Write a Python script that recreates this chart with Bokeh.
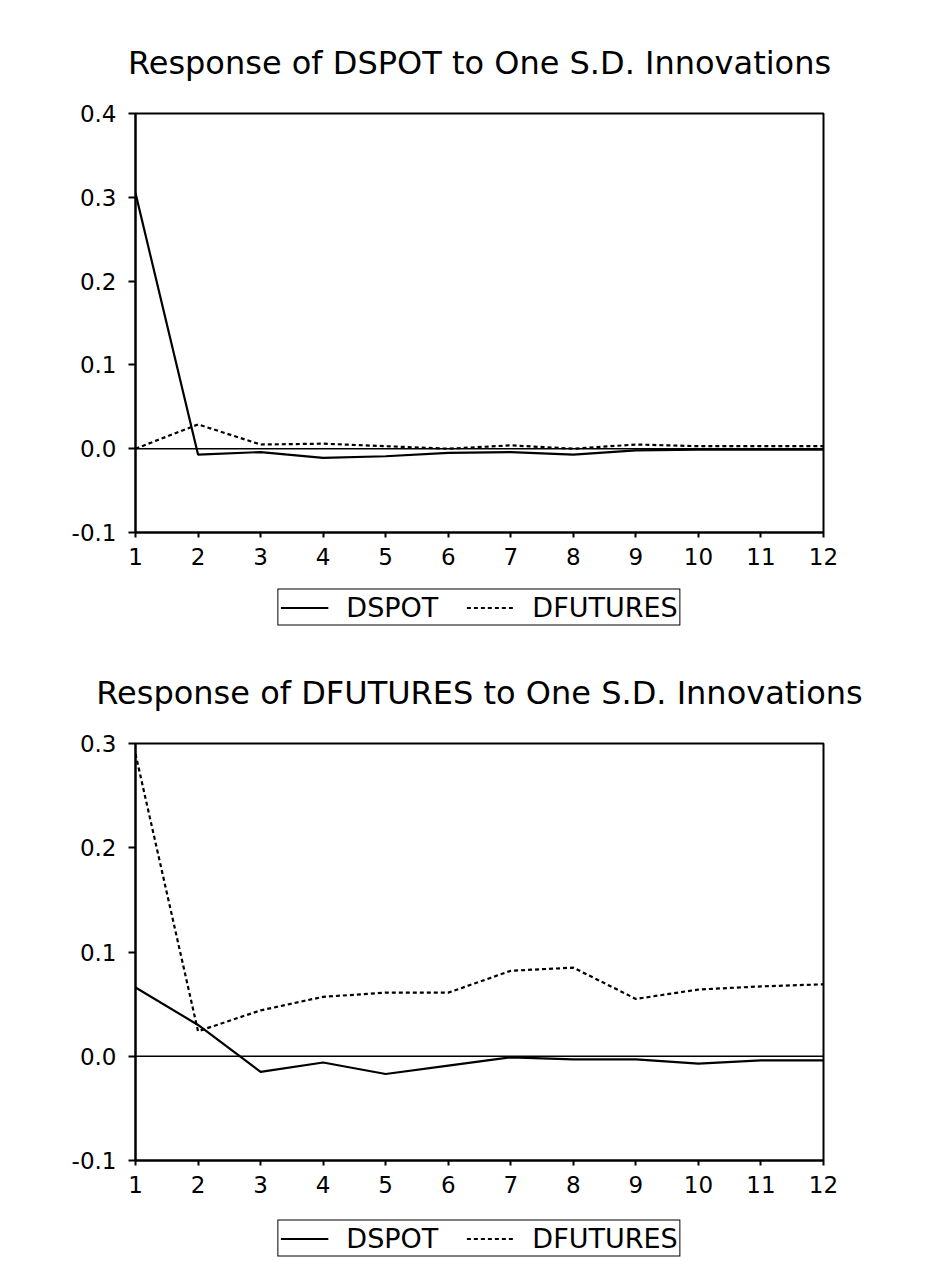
from bokeh.plotting import figure
from bokeh.models import Range1d, FixedTicker, NumeralTickFormatter, Span, Legend, LegendItem
from bokeh.layouts import column
from bokeh.embed import file_html
from bokeh.resources import INLINE

steps = list(range(1, 13))
x_ticks = list(range(1, 13))

title_top = "Response of DSPOT to One S.D. Innovations"
title_bottom = "Response of DFUTURES to One S.D. Innovations"
series_names = ["DSPOT", "DFUTURES"]

top_y_ticks = [-0.1, 0.0, 0.1, 0.2, 0.3, 0.4]
bottom_y_ticks = [-0.1, 0.0, 0.1, 0.2, 0.3]

# Response of DSPOT
spot_to_dspot = [0.305, -0.007, -0.004, -0.011, -0.009, -0.005, -0.004, -0.007, -0.002, -0.001, -0.001, -0.001]
spot_to_dfutures = [0.0, 0.029, 0.005, 0.006, 0.003, 0.0, 0.004, 0.0, 0.005, 0.003, 0.003, 0.003]

# Response of DFUTURES
fut_to_dspot = [0.066, 0.030, -0.015, -0.006, -0.017, -0.009, -0.001, -0.003, -0.003, -0.007, -0.004, -0.004]
fut_to_dfutures = [0.290, 0.024, 0.044, 0.057, 0.061, 0.061, 0.082, 0.085, 0.055, 0.064, 0.067, 0.069]

FONT = "DejaVu Sans"
DASH = "4 3"


def make(title, y_ticks, s_solid, s_dash, height, mb_top, mb_bottom, standoff):
    p = figure(width=930, height=height,
               min_border_left=135, min_border_right=107,
               min_border_top=mb_top, min_border_bottom=mb_bottom,
               x_range=Range1d(1, 12), y_range=Range1d(y_ticks[0], y_ticks[-1]),
               output_backend="svg", toolbar_location=None, title=title)
    p.title.text_font = FONT
    p.title.text_font_size = "32px"
    p.title.text_font_style = "normal"
    p.title.align = "center"
    p.title.text_color = "black"
    p.title.standoff = standoff
    p.grid.visible = False
    p.outline_line_color = "black"
    p.outline_line_width = 2
    p.outline_line_alpha = 1
    p.background_fill_color = "white"
    p.border_fill_color = "white"

    p.xaxis.ticker = FixedTicker(ticks=x_ticks)
    p.yaxis.ticker = FixedTicker(ticks=y_ticks)
    p.yaxis.formatter = NumeralTickFormatter(format="0.0")
    for ax in (p.xaxis, p.yaxis):
        ax.axis_line_color = "black"
        ax.axis_line_width = 2
        ax.major_tick_line_color = "black"
        ax.major_tick_line_width = 2
        ax.major_tick_in = 0
        ax.minor_tick_line_color = None
        ax.major_label_text_font = FONT
        ax.major_label_text_font_size = "23px"
        ax.major_label_text_color = "black"
    p.xaxis.major_tick_out = 5
    p.xaxis.major_label_standoff = 10
    p.yaxis.major_tick_out = 7
    p.yaxis.major_label_standoff = 12

    p.add_layout(Span(location=0, dimension="width", line_color="black", line_width=1.5))

    p.line(steps, s_solid, line_color="black", line_width=2.2)
    p.line(steps, s_dash, line_color="black", line_width=2.2, line_dash=DASH)
    return p


def make_legend(height):
    q = figure(width=930, height=height, min_border_left=30, min_border_right=0,
               min_border_top=0, min_border_bottom=0,
               x_range=Range1d(0, 1), y_range=Range1d(0, 1),
               output_backend="svg", toolbar_location=None)
    q.axis.visible = False
    q.grid.visible = False
    q.outline_line_color = None
    q.background_fill_color = "white"
    q.border_fill_color = "white"
    # legend-only renderers, placed outside the visible range
    r1 = q.line(x=[-5, -4], y=[-5, -4], line_color="black", line_width=2)
    r2 = q.line(x=[-5, -4], y=[-5, -4], line_color="black", line_width=2, line_dash=DASH)
    leg = Legend(items=[LegendItem(label=series_names[0], renderers=[r1]),
                        LegendItem(label=series_names[1], renderers=[r2])],
                 orientation="horizontal", location="center")
    leg.label_text_font = FONT
    leg.label_text_font_size = "27px"
    leg.label_text_color = "black"
    leg.border_line_color = "black"
    leg.border_line_width = 1.5
    leg.border_line_alpha = 1
    leg.background_fill_alpha = 1
    leg.glyph_width = 48
    leg.glyph_height = 20
    leg.label_standoff = 18
    leg.spacing = 28
    leg.padding = 2
    leg.margin = 0
    q.add_layout(leg, "center")
    return q


p1 = make(title_top, top_y_ticks, spot_to_dspot, spot_to_dfutures, 575, 113, 43, 64)
l1 = make_legend(64)
p2 = make(title_bottom, bottom_y_ticks, fut_to_dspot, fut_to_dfutures, 566, 100, 45, 64)
l2 = make_legend(66)

layout = column(p1, l1, p2, l2, spacing=0)
open("out.html", "w").write(file_html(layout, INLINE))
